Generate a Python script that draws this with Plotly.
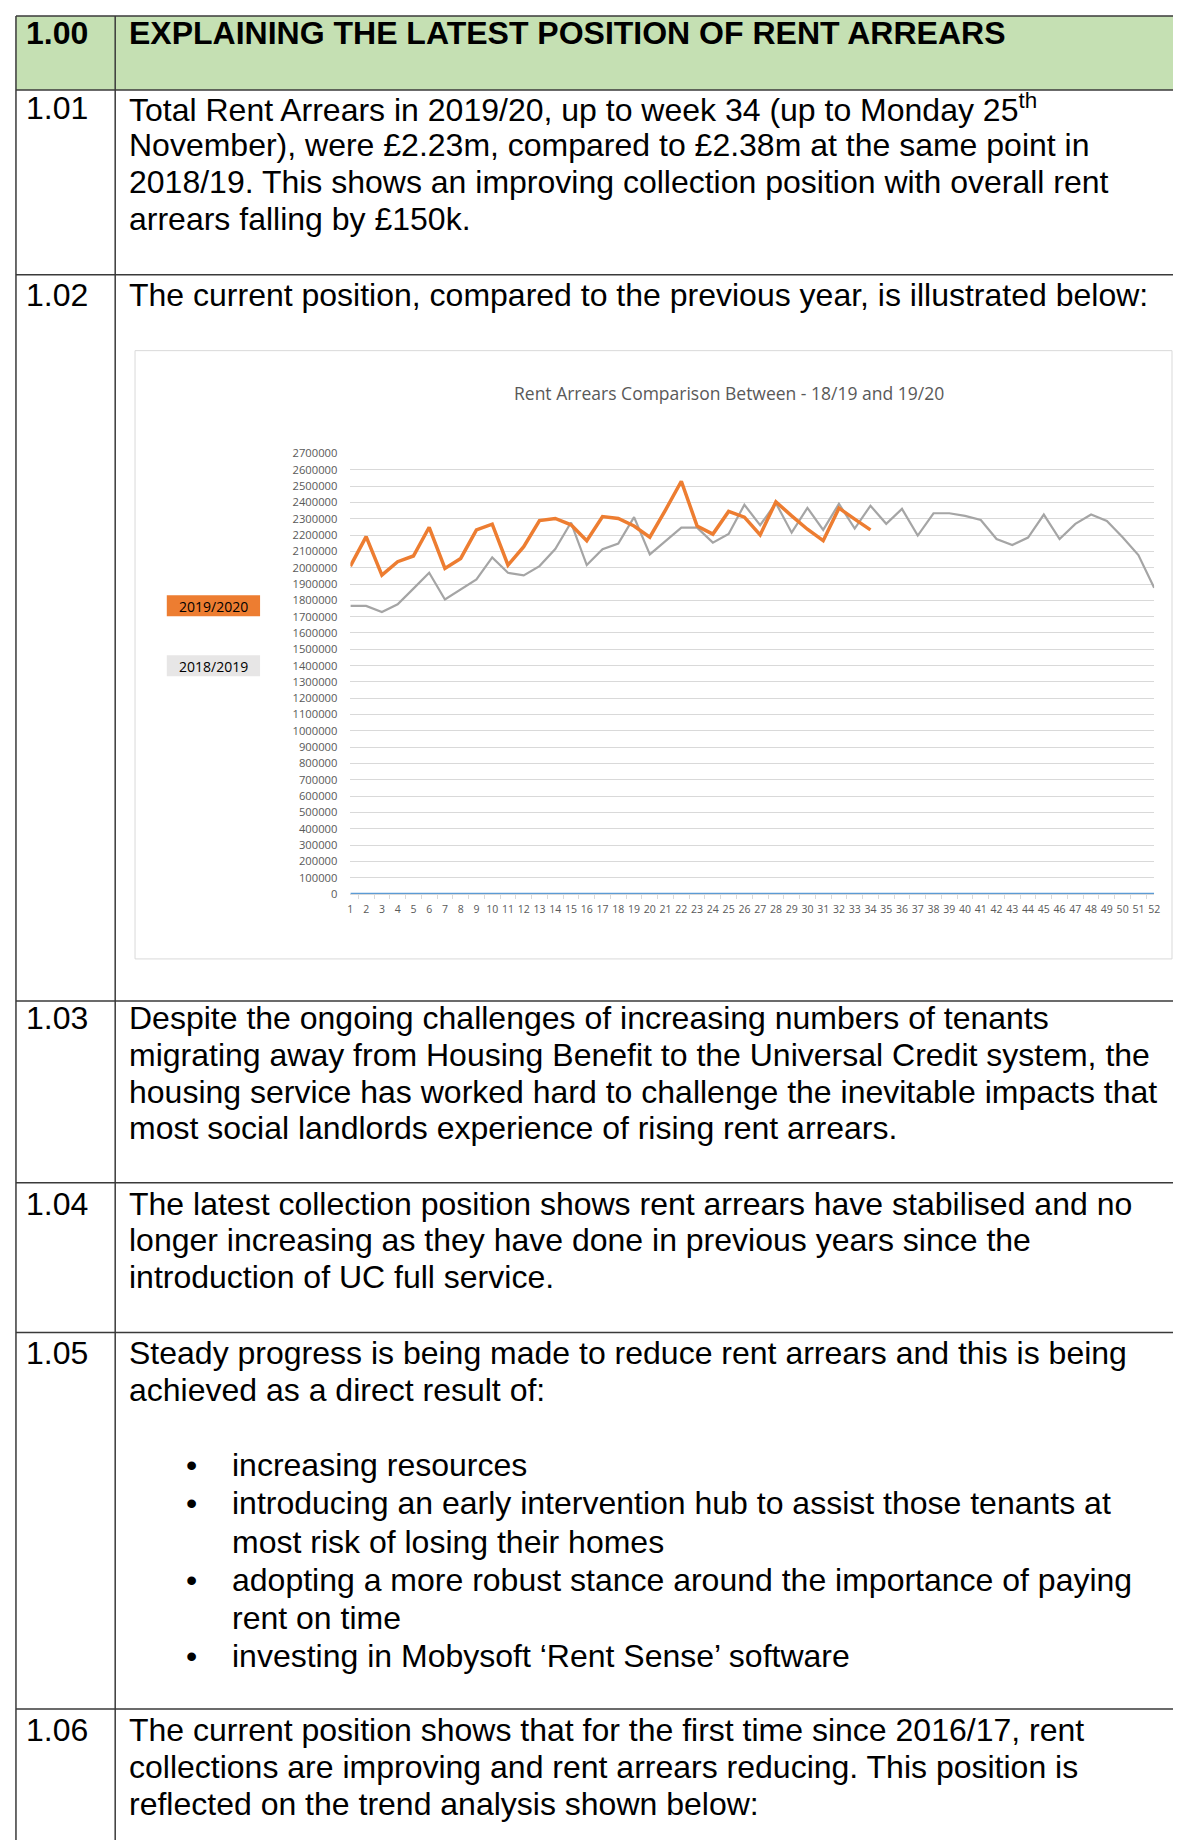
import plotly.graph_objects as go

# page is 1187x1848; the html body keeps its default 8px margin,
# so the figure is sized to fit inside it and coordinates are page pixels.
PAGE_W, PAGE_H = 1187, 1848
OFF = 8
FW, FH = PAGE_W - 2 * OFF, PAGE_H - 2 * OFF

# ---------------- data ----------------
weeks = ["1", "2", "3", "4", "5", "6", "7", "8", "9", "10", "11", "12", "13",
         "14", "15", "16", "17", "18", "19", "20", "21", "22", "23", "24", "25", "26",
         "27", "28", "29", "30", "31", "32", "33", "34", "35", "36", "37", "38", "39",
         "40", "41", "42", "43", "44", "45", "46", "47", "48", "49", "50", "51", "52"]

arrears_2019_20 = [2010000, 2191000, 1955000, 2037000, 2072000, 2248000, 1996000, 2057000,
                   2232000, 2267000, 2016000, 2129000, 2289000, 2302000, 2263000, 2166000,
                   2314000, 2302000, 2256000, 2187000, 2355000, 2530000, 2256000, 2206000,
                   2345000, 2310000, 2201000, 2404000, 2318000, 2236000, 2166000, 2365000,
                   2298000, 2232000]

arrears_2018_19 = [1766000, 1766000, 1729000, 1776000, 1872000, 1969000, 1805000, 1868000,
                   1928000, 2063000, 1969000, 1953000, 2010000, 2115000, 2277000, 2016000,
                   2113000, 2148000, 2310000, 2082000, 2166000, 2246000, 2246000, 2154000,
                   2207000, 2386000, 2261000, 2396000, 2215000, 2367000, 2232000, 2392000,
                   2240000, 2380000, 2269000, 2361000, 2197000, 2334000, 2334000, 2318000,
                   2293000, 2176000, 2139000, 2185000, 2326000, 2176000, 2269000, 2326000,
                   2287000, 2187000, 2078000, 1877000]

blank_series = [0, 0, 0, 0, 0, 0, 0, 0, 0, 0, 0, 0, 0, 0, 0, 0, 0, 0, 0, 0, 0, 0, 0, 0, 0, 0,
                0, 0, 0, 0, 0, 0, 0, 0, 0, 0, 0, 0, 0, 0, 0, 0, 0, 0, 0, 0, 0, 0, 0, 0, 0, 0]

y_ticks = [0, 100000, 200000, 300000, 400000, 500000, 600000, 700000, 800000, 900000,
           1000000, 1100000, 1200000, 1300000, 1400000, 1500000, 1600000, 1700000, 1800000,
           1900000, 2000000, 2100000, 2200000, 2300000, 2400000, 2500000, 2600000, 2700000]

chart_title = "Rent Arrears Comparison Between - 18/19 and 19/20"
legend_labels = ["2019/2020", "2018/2019"]

header = ("1.00", "EXPLAINING THE LATEST POSITION OF RENT ARREARS")
rows = [
    ("1.01", ["Total Rent Arrears in 2019/20, up to week 34 (up to Monday 25<sup>th</sup>",
              "November), were £2.23m, compared to £2.38m at the same point in",
              "2018/19. This shows an improving collection position with overall rent",
              "arrears falling by £150k."]),
    ("1.02", ["The current position, compared to the previous year, is illustrated below:"]),
    ("1.03", ["Despite the ongoing challenges of increasing numbers of tenants",
              "migrating away from Housing Benefit to the Universal Credit system, the",
              "housing service has worked hard to challenge the inevitable impacts that",
              "most social landlords experience of rising rent arrears."]),
    ("1.04", ["The latest collection position shows rent arrears have stabilised and no",
              "longer increasing as they have done in previous years since the",
              "introduction of UC full service."]),
    ("1.05", ["Steady progress is being made to reduce rent arrears and this is being",
              "achieved as a direct result of:"]),
    ("1.06", ["The current position shows that for the first time since 2016/17, rent",
              "collections are improving and rent arrears reducing. This position is",
              "reflected on the trend analysis shown below:"]),
]
bullets = [["increasing resources"],
           ["introducing an early intervention hub to assist those tenants at",
            "most risk of losing their homes"],
           ["adopting a more robust stance around the importance of paying",
            "rent on time"],
           ["investing in Mobysoft ‘Rent Sense’ software"]]


# ---------------- layout helpers (page pixels -> paper) ----------------
def X(px):
    return (px - OFF) / FW


def V(py):
    # small vertical calibration of page positions
    return (py - 6) / 0.993


def Y(py):
    return 1 - (V(py) - OFF) / FH


TEXT_FONT = "Liberation Sans, Arial, sans-serif"
CHART_FONT = "Open Sans, Calibri, sans-serif"
LINE_H = 36.9

fig = go.Figure()

fig.add_trace(go.Scatter(x=weeks, y=blank_series, mode="lines",
                         line=dict(color="#5B9BD5", width=2.5), showlegend=False,
                         hoverinfo="skip"))
fig.add_trace(go.Scatter(x=weeks, y=arrears_2018_19, mode="lines", name=legend_labels[1],
                         line=dict(color="#A5A5A5", width=2.2), showlegend=False))
fig.add_trace(go.Scatter(x=weeks[:len(arrears_2019_20)], y=arrears_2019_20, mode="lines",
                         name=legend_labels[0],
                         line=dict(color="#ED7D31", width=3.5), showlegend=False))

shapes = []
annotations = []

# table
LEFT, DIV, RIGHT = 13, 113, 1179
TOP, HEAD_B = 14, 88
row_bounds = [88, 273, 1000, 1182, 1332, 1709]
border = dict(color="#3a3a3a", width=1.5)
shapes.append(dict(type="rect", xref="paper", yref="paper", x0=X(LEFT), x1=X(RIGHT),
                   y0=Y(HEAD_B), y1=Y(TOP), fillcolor="#C5E0B3", line=dict(width=0),
                   layer="below"))
shapes.append(dict(type="line", xref="paper", yref="paper", x0=X(LEFT), x1=X(RIGHT),
                   y0=Y(TOP), y1=Y(TOP), line=border))
for b in row_bounds:
    shapes.append(dict(type="line", xref="paper", yref="paper", x0=X(LEFT), x1=X(RIGHT),
                       y0=Y(b), y1=Y(b), line=border))
for vx in (LEFT, DIV):
    shapes.append(dict(type="line", xref="paper", yref="paper", x0=X(vx), x1=X(vx),
                       y0=Y(TOP), y1=-0.01, line=border))

# chart box
shapes.append(dict(type="rect", xref="paper", yref="paper", x0=X(133), x1=X(1178),
                   y0=Y(958), y1=Y(349), line=dict(color="#D9D9D9", width=1)))

# legend patches
shapes.append(dict(type="rect", xref="paper", yref="paper", x0=X(165), x1=X(259),
                   y0=Y(615), y1=Y(594), fillcolor="#ED7D31", line=dict(width=0)))
shapes.append(dict(type="rect", xref="paper", yref="paper", x0=X(165), x1=X(259),
                   y0=Y(675), y1=Y(654), fillcolor="#E7E6E6", line=dict(width=0)))
annotations.append(dict(text=legend_labels[0], x=X(212), y=Y(605), xref="paper", yref="paper",
                        xanchor="center", yanchor="middle", showarrow=False,
                        font=dict(family=CHART_FONT, size=14, color="#000000")))
annotations.append(dict(text=legend_labels[1], x=X(212), y=Y(665), xref="paper", yref="paper",
                        xanchor="center", yanchor="middle", showarrow=False,
                        font=dict(family=CHART_FONT, size=14, color="#000000")))

# chart title
annotations.append(dict(text=chart_title, x=X(732), y=Y(391), xref="paper", yref="paper",
                        xanchor="center", yanchor="middle", showarrow=False,
                        font=dict(family=CHART_FONT, size=17.5, color="#595959")))


def add_text(txt, x, y, bold=False, anchor="left"):
    annotations.append(dict(text=("<b>%s</b>" % txt) if bold else txt, x=X(x), y=Y(y),
                            xref="paper", yref="paper", xanchor=anchor, yanchor="middle",
                            showarrow=False,
                            font=dict(family=TEXT_FONT, size=32, color="#000000")))


NUM_X, BODY_X = 21, 125
add_text(header[0], NUM_X, 31, bold=True)
add_text(header[1], BODY_X, 31, bold=True)

row_first_y = {"1.01": 106, "1.02": 293, "1.03": 1017, "1.04": 1203, "1.05": 1353,
               "1.06": 1730}
for num, lines in rows:
    y0 = row_first_y[num]
    add_text(num, NUM_X, y0)
    for i, ln in enumerate(lines):
        add_text(ln, BODY_X, y0 + i * LINE_H)

by = 1465
for item in bullets:
    add_text("•", 190, by, anchor="center")
    for ln in item:
        add_text(ln, 229, by)
        by += LINE_H + 1.3

fig.update_layout(
    width=FW, height=FH,
    margin=dict(l=0, r=0, t=0, b=0),
    paper_bgcolor="white", plot_bgcolor="white",
    shapes=shapes, annotations=annotations,
    showlegend=False,
    xaxis=dict(domain=[X(350), X(1160)], type="category", showgrid=False,
               showline=True, linecolor="#D9D9D9", linewidth=1,
               ticks="outside", tickson="boundaries", ticklen=4, tickcolor="#D9D9D9",
               tickangle=0, ticklabelstandoff=5,
               tickfont=dict(family=CHART_FONT, size=10.5, color="#595959"),
               fixedrange=True),
    yaxis=dict(domain=[Y(893), Y(452)], range=[0, 2700000], tickvals=y_ticks,
               tickformat="d", showgrid=True, gridcolor="#D9D9D9", gridwidth=1,
               zeroline=False, showline=False, ticks="",
               ticklabelstandoff=12,
               tickfont=dict(family=CHART_FONT, size=11.2, color="#595959"),
               fixedrange=True),
)

fig.write_html("out.html", config={"displayModeBar": False})
